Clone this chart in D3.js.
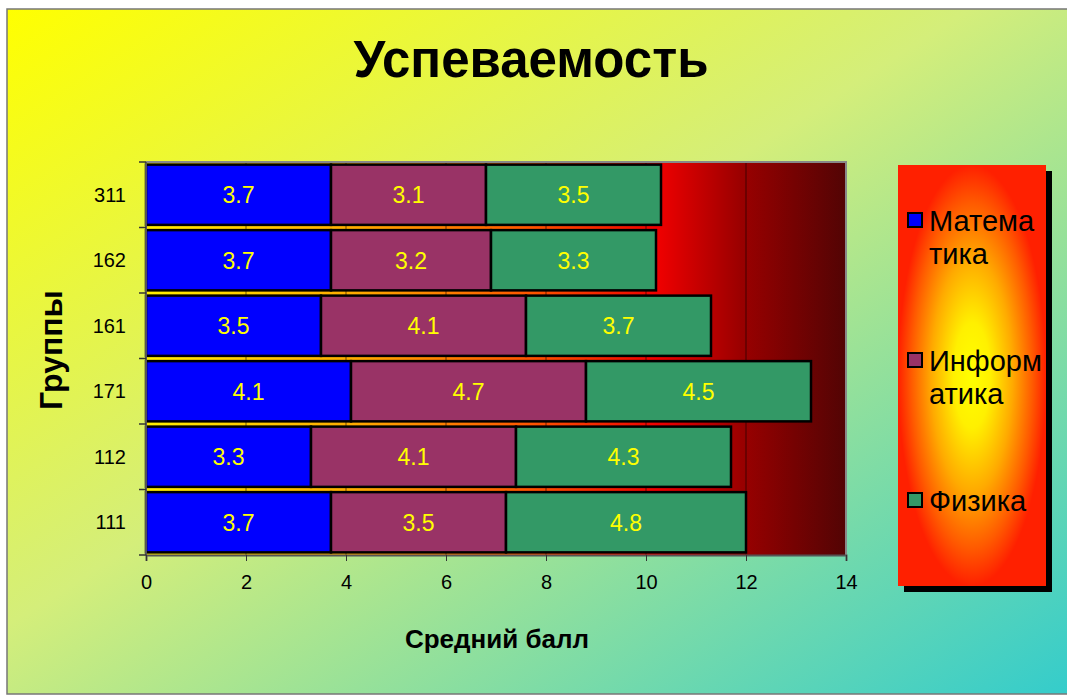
<!DOCTYPE html>
<html>
<head>
<meta charset="utf-8">
<script src="https://cdn.jsdelivr.net/npm/d3@7"></script>
<style>
  body { margin: 0; background: #fff; }
  text { font-family: "Liberation Sans", Arial, sans-serif; }
</style>
</head>
<body>
<script>
// data
var groups = ["311", "162", "161", "171", "112", "111"];
var subjects = ["Математика", "Информатика", "Физика"];
var legendLines = [["Матема", "тика"], ["Информ", "атика"], ["Физика"]];
var math = [3.7, 3.7, 3.5, 4.1, 3.3, 3.7];
var informatics = [3.1, 3.2, 4.1, 4.7, 4.1, 3.5];
var physics = [3.5, 3.3, 3.7, 4.5, 4.3, 4.8];
var xTicks = [0, 2, 4, 6, 8, 10, 12, 14];
var colors = ["#0000ff", "#993366", "#339966"];

var svgWidth = 1067;
var svgHeight = 696;

var plot = { left: 146, top: 162, right: 846, bottom: 555 };

var svg = d3.select("body").append("svg")
    .attr("width", svgWidth)
    .attr("height", svgHeight);

var defs = svg.append("defs");

// chart background gradient
var bg = defs.append("linearGradient").attr("id", "bgGrad")
    .attr("x1", 0).attr("y1", 0).attr("x2", 1).attr("y2", 1);
bg.append("stop").attr("offset", "0%").attr("stop-color", "#ffff00");
bg.append("stop").attr("offset", "45%").attr("stop-color", "#d4ee7a");
bg.append("stop").attr("offset", "100%").attr("stop-color", "#33cccc");

// plot area gradient
var pg = defs.append("linearGradient").attr("id", "plotGrad")
    .attr("x1", 0).attr("y1", 0).attr("x2", 1).attr("y2", 0);
pg.append("stop").attr("offset", "0%").attr("stop-color", "#ffee00");
pg.append("stop").attr("offset", "30%").attr("stop-color", "#ffaa00");
pg.append("stop").attr("offset", "55%").attr("stop-color", "#ff5500");
pg.append("stop").attr("offset", "73%").attr("stop-color", "#f00000");
pg.append("stop").attr("offset", "85%").attr("stop-color", "#9a0000");
pg.append("stop").attr("offset", "100%").attr("stop-color", "#520404");

// legend gradient
var lg = defs.append("radialGradient").attr("id", "legGrad")
    .attr("cx", 0.5).attr("cy", 0.5).attr("r", 0.5);
lg.append("stop").attr("offset", "0%").attr("stop-color", "#ffff00");
lg.append("stop").attr("offset", "25%").attr("stop-color", "#fff000");
lg.append("stop").attr("offset", "55%").attr("stop-color", "#ffaa00");
lg.append("stop").attr("offset", "82%").attr("stop-color", "#ff5a00");
lg.append("stop").attr("offset", "100%").attr("stop-color", "#ff2000");

// chart frame
svg.append("rect")
    .attr("x", 7).attr("y", 9)
    .attr("width", 1070).attr("height", 685)
    .attr("fill", "url(#bgGrad)")
    .attr("stroke", "#777").attr("stroke-width", 1.5);

// title
svg.append("text")
    .attr("x", 531).attr("y", 77)
    .attr("text-anchor", "middle")
    .style("font-weight", "bold")
    .style("font-size", "51px")
    .text("Успеваемость");

// scales
var xScale = d3.scaleLinear()
    .domain([0, 14])
    .range([plot.left, plot.right]);

var yScale = d3.scaleBand()
    .domain(groups)
    .range([plot.top, plot.bottom])
    .paddingInner(0.08)
    .paddingOuter(0.04);

// plot background
svg.append("rect")
    .attr("x", plot.left).attr("y", plot.top)
    .attr("width", plot.right - plot.left)
    .attr("height", plot.bottom - plot.top)
    .attr("fill", "url(#plotGrad)");

// gridlines
svg.append("g").selectAll("line")
    .data(xTicks.slice(1, -1))
    .enter()
    .append("line")
    .attr("x1", d => xScale(d)).attr("x2", d => xScale(d))
    .attr("y1", plot.top).attr("y2", plot.bottom)
    .attr("stroke", "#000").attr("stroke-opacity", 0.55)
    .attr("stroke-width", 1);

// border top & right
svg.append("path")
    .attr("d", `M${plot.left},${plot.top}H${plot.right}V${plot.bottom}`)
    .attr("fill", "none")
    .attr("stroke", "#888").attr("stroke-width", 2);

// stacked data
var rows = groups.map(function (g, i) {
    return { group: g, values: [math[i], informatics[i], physics[i]] };
});
var stack = d3.stack().keys([0, 1, 2]).value((d, k) => d.values[k]);
var series = stack(rows);

var layers = svg.append("g").selectAll("g")
    .data(series)
    .enter()
    .append("g")
    .attr("fill", (d, i) => colors[i]);

layers.selectAll("rect")
    .data(d => d)
    .enter()
    .append("rect")
    .attr("x", d => xScale(d[0]))
    .attr("y", d => yScale(d.data.group))
    .attr("width", d => xScale(d[1]) - xScale(d[0]))
    .attr("height", yScale.bandwidth())
    .attr("stroke", "#000")
    .attr("stroke-width", 2.5);

layers.selectAll("text")
    .data(d => d)
    .enter()
    .append("text")
    .attr("x", d => (xScale(d[0]) + xScale(d[1])) / 2)
    .attr("y", d => yScale(d.data.group) + yScale.bandwidth() / 2)
    .attr("dy", "0.36em")
    .attr("text-anchor", "middle")
    .attr("fill", "#ffff00")
    .style("font-size", "23px")
    .text(d => (d[1] - d[0]).toFixed(1));

// axes
var bottomAxis = d3.axisBottom(xScale)
    .tickValues(xTicks)
    .tickSize(6)
    .tickPadding(14);

var xAxis = svg.append("g")
    .attr("transform", `translate(0, ${plot.bottom})`)
    .call(bottomAxis);
xAxis.select(".domain").attr("stroke", "#555").attr("stroke-width", 2);
xAxis.selectAll(".tick line").attr("stroke", "#333");
xAxis.selectAll("text")
    .style("font-family", "'Liberation Sans', Arial, sans-serif")
    .style("font-size", "20px")
    .attr("fill", "#000");

// y axis: ticks at category boundaries
var yAxis = svg.append("g");
yAxis.append("line")
    .attr("x1", plot.left).attr("x2", plot.left)
    .attr("y1", plot.top).attr("y2", plot.bottom)
    .attr("stroke", "#555").attr("stroke-width", 2);
var boundaries = d3.range(groups.length + 1).map(i => plot.top + i * (plot.bottom - plot.top) / groups.length);
yAxis.selectAll(".yt")
    .data(boundaries)
    .enter()
    .append("line")
    .attr("x1", plot.left - 7).attr("x2", plot.left)
    .attr("y1", d => d).attr("y2", d => d)
    .attr("stroke", "#333").attr("stroke-width", 1.5);
yAxis.selectAll("text")
    .data(groups)
    .enter()
    .append("text")
    .attr("x", plot.left - 20)
    .attr("y", d => yScale(d) + yScale.bandwidth() / 2)
    .attr("dy", "0.36em")
    .attr("text-anchor", "end")
    .style("font-size", "20px")
    .text(d => d);

// axis titles
svg.append("text")
    .attr("transform", "translate(62, 350) rotate(-90)")
    .attr("text-anchor", "middle")
    .style("font-weight", "bold")
    .style("font-size", "32px")
    .text("Группы");

svg.append("text")
    .attr("x", 497).attr("y", 648)
    .attr("text-anchor", "middle")
    .style("font-weight", "bold")
    .style("font-size", "26px")
    .text("Средний балл");

// legend
var legend = { x: 898, y: 165, w: 148, h: 421 };
svg.append("rect")
    .attr("x", legend.x + 6).attr("y", legend.y + 6)
    .attr("width", legend.w).attr("height", legend.h)
    .attr("fill", "#000");
svg.append("rect")
    .attr("x", legend.x).attr("y", legend.y)
    .attr("width", legend.w).attr("height", legend.h)
    .attr("fill", "url(#legGrad)");

var legendY = [221, 361, 501];
var items = svg.append("g").selectAll("g")
    .data(subjects)
    .enter()
    .append("g")
    .attr("transform", (d, i) => `translate(${legend.x + 10}, ${legendY[i]})`);

items.append("rect")
    .attr("x", 0).attr("y", -8)
    .attr("width", 14).attr("height", 14)
    .attr("fill", (d, i) => colors[i])
    .attr("stroke", "#000").attr("stroke-width", 2);

items.append("text")
    .attr("x", 21)
    .attr("y", 0)
    .style("font-size", "29px")
    .each(function (d, i) {
        var t = d3.select(this);
        legendLines[i].forEach(function (line, j) {
            t.append("tspan")
                .attr("x", 21)
                .attr("dy", j === 0 ? "0.36em" : "1.12em")
                .text(line);
        });
    });
</script>
</body>
</html>
